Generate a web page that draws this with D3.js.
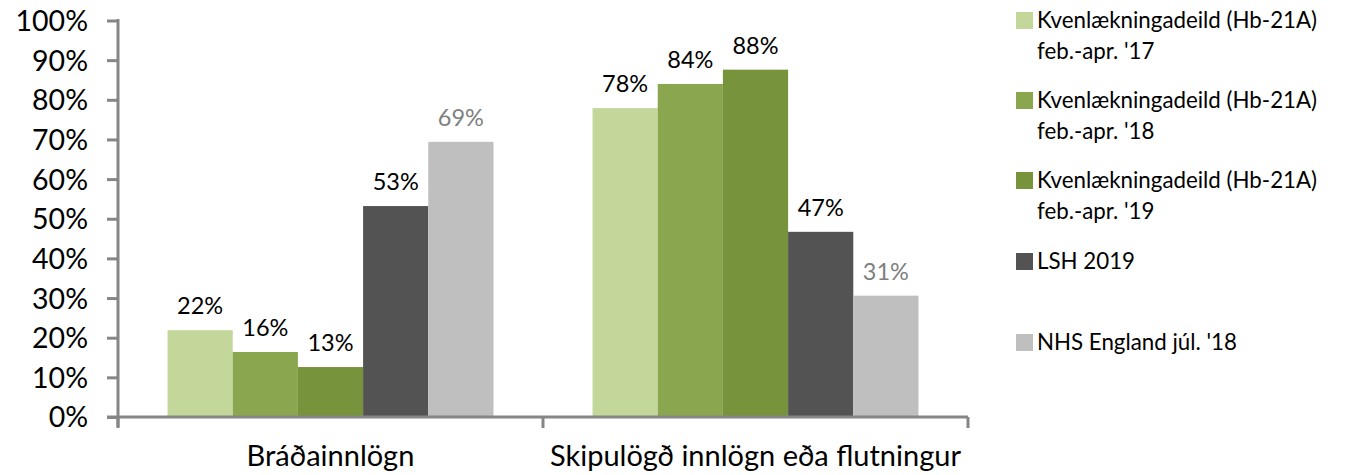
<!DOCTYPE html>
<html>
<head>
<meta charset="utf-8">
<script src="https://cdn.jsdelivr.net/npm/d3@7"></script>
<style>
  html, body { margin: 0; padding: 0; background: #fff; }
  svg { display: block; font-family: Lato, "Open Sans", sans-serif; }
</style>
</head>
<body>
<svg id="chart" width="1351" height="475"></svg>
<script>
const categories = ["Bráðainnlögn", "Skipulögð innlögn eða flutningur"];
const seriesNames = [
  "Kvenlækningadeild (Hb-21A) feb.-apr. '17",
  "Kvenlækningadeild (Hb-21A) feb.-apr. '18",
  "Kvenlækningadeild (Hb-21A) feb.-apr. '19",
  "LSH 2019",
  "NHS England júl. '18"
];
const legendLines = [
  ["Kvenlækningadeild (Hb-21A)", "feb.-apr. '17"],
  ["Kvenlækningadeild (Hb-21A)", "feb.-apr. '18"],
  ["Kvenlækningadeild (Hb-21A)", "feb.-apr. '19"],
  ["LSH 2019"],
  ["NHS England júl. '18"]
];
const values17 = [0.219, 0.779];
const values18 = [0.164, 0.840];
const values19 = [0.126, 0.876];
const valuesLSH = [0.532, 0.467];
const valuesNHS = [0.694, 0.306];
const yTicks = [0, 0.1, 0.2, 0.3, 0.4, 0.5, 0.6, 0.7, 0.8, 0.9, 1.0];

const seriesValues = [values17, values18, values19, valuesLSH, valuesNHS];
const colors = ["#c4d79b", "#8aa64f", "#77933c", "#535353", "#bfbfbf"];
const labelColors = ["#000", "#000", "#000", "#000", "#7f7f7f"];

const svg = d3.select("#chart");
const axisColor = "#868686";

const x0 = d3.scaleBand().domain(categories).range([118, 968]).padding(0);
const x1 = d3.scaleBand().domain(d3.range(seriesNames.length))
  .range([0, x0.bandwidth()]).paddingInner(0).paddingOuter(0.76);
const y = d3.scaleLinear().domain([0, 1]).range([417, 20.5]);

// bars
const groups = svg.append("g").selectAll("g")
  .data(categories).join("g")
  .attr("transform", d => `translate(${x0(d)},0)`);

groups.each(function(cat, ci) {
  const g = d3.select(this);
  seriesValues.forEach((vals, si) => {
    const v = vals[ci];
    g.append("rect")
      .attr("x", x1(si))
      .attr("y", y(v))
      .attr("width", x1.bandwidth())
      .attr("height", y(0) - y(v))
      .attr("fill", colors[si]);
    g.append("text")
      .attr("x", x1(si) + x1.bandwidth() / 2)
      .attr("y", y(v) - 16)
      .attr("text-anchor", "middle")
      .attr("font-size", 23.5)
      .attr("fill", labelColors[si])
      .text(d3.format(".0%")(v));
  });
});

// y axis
const yAxis = svg.append("g")
  .attr("transform", "translate(118,0)")
  .call(d3.axisLeft(y).tickValues(yTicks).tickFormat(d3.format(".0%")).tickSize(11).tickPadding(19));
yAxis.select(".domain").remove();
yAxis.selectAll(".tick line").attr("stroke", axisColor).attr("stroke-width", 3);
yAxis.selectAll(".tick text").attr("font-size", 28.5).attr("fill", "#000")
  .attr("font-family", "Lato, 'Open Sans', sans-serif").attr("dy", "0.35em");
svg.append("line")
  .attr("x1", 118).attr("x2", 118)
  .attr("y1", y(1) - 1.5).attr("y2", y(0) + 10)
  .attr("stroke", axisColor).attr("stroke-width", 3);

// x axis
svg.append("line")
  .attr("x1", 107).attr("x2", 968)
  .attr("y1", y(0)).attr("y2", y(0))
  .attr("stroke", axisColor).attr("stroke-width", 3);
const boundaries = [x0(categories[0]), x0(categories[1]), x0(categories[1]) + x0.bandwidth()];
svg.append("g").selectAll("line").data(boundaries).join("line")
  .attr("x1", d => d).attr("x2", d => d)
  .attr("y1", y(0)).attr("y2", y(0) + 11)
  .attr("stroke", axisColor).attr("stroke-width", 3);
svg.append("g").selectAll("text").data(categories).join("text")
  .attr("x", d => x0(d) + x0.bandwidth() / 2)
  .attr("y", 466)
  .attr("text-anchor", "middle")
  .attr("font-size", 29)
  .attr("fill", "#000")
  .text(d => d);

// legend
const legendY = [28, 108, 188, 269, 350];
const leg = svg.append("g").selectAll("g").data(legendLines).join("g")
  .attr("transform", (d, i) => `translate(1016,${legendY[i]})`);
leg.append("rect")
  .attr("x", 0).attr("y", -16).attr("width", 17).attr("height", 17)
  .attr("fill", (d, i) => colors[i]);
leg.each(function(lines) {
  const g = d3.select(this);
  lines.forEach((t, li) => {
    g.append("text")
      .attr("x", 21).attr("y", li * 31)
      .attr("font-size", 22.3)
      .attr("fill", "#000")
      .text(t);
  });
});
</script>
</body>
</html>
